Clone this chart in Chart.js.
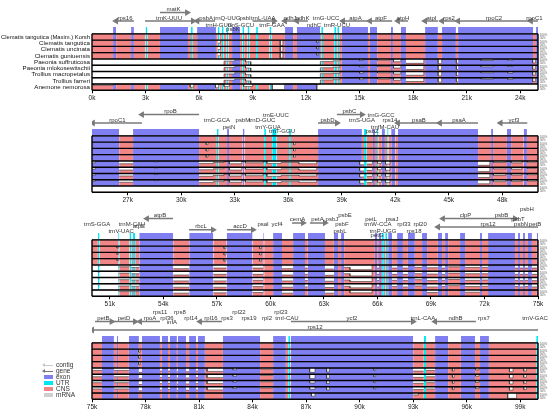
<!DOCTYPE html>
<html>
<head>
<meta charset="utf-8">
<title>mVISTA plastome alignment</title>
<script src="https://cdn.jsdelivr.net/npm/chart.js@4.4.0/dist/chart.umd.min.js"></script>
<style>
  body { margin: 0; width: 550px; height: 410px; overflow: hidden; background: #fff; position: relative;
         font-family: "Liberation Sans", Arial, sans-serif; }
  .panel { position: absolute; left: 0; width: 550px; height: 107px; }
  #legend { position: absolute; left: 44px; top: 362px; font-size: 6.5px; color: #333; line-height: 6px; }
  #legend div { height: 6px; white-space: nowrap; }
  #legend i { display: inline-block; width: 9px; height: 4px; margin-right: 3px; vertical-align: middle; }
  #legend i.arrow { height: 1.5px; position: relative; }
  #legend i.arrow:before { content: ""; position: absolute; left: -2px; top: -2px; border: 2.5px solid transparent; border-right: 3px solid; border-right-color: inherit; border-left: 0; }
</style>
</head>
<body>
<div class="panel" style="top:-3px"><canvas id="panel1"></canvas></div>
<div class="panel" style="top:99px"><canvas id="panel2"></canvas></div>
<div class="panel" style="top:203px"><canvas id="panel3"></canvas></div>
<div class="panel" style="top:306px"><canvas id="panel4"></canvas></div>
<div id="legend">
  <div><i class="arrow" style="background:#c8c8c8;border-color:#c8c8c8"></i>contig</div>
  <div><i class="arrow" style="background:#777;border-color:#777"></i>gene</div>
  <div><i style="background:#7f7ff2"></i>exon</div>
  <div><i style="background:#00e8f8"></i>UTR</div>
  <div><i style="background:#f28585"></i>CNS</div>
  <div><i style="background:#cfcfcf"></i>mRNA</div>
</div>
<script>
// Species tracks, top to bottom
const species = [
    'Clematis tangutica (Maxim.) Korsh', 'Clematis tangutica', 'Clematis uncinata', 'Clematis guniuensis',
    'Paeonia suffruticosa', 'Paeonia mlokosewitschii', 'Trollius macropetalus', 'Trollius farreri', 'Anemone nemorosa'
];

// ---- Panel 1 (0 - 25 kb) ----
const p1Range = [0, 25];
const p1Ticks = [0, 3, 6, 9, 12, 15, 18, 21, 24];
const p1Exons = [[1.18, 1.35], [2.19, 2.35], [3.81, 5.38], [5.89, 6.95], [7.85, 8.3], [10.82, 11.27], [11.49, 12.78],
    [14.01, 15.47], [15.58, 15.98], [16.76, 16.87], [17.32, 17.6], [18.67, 19.39], [19.62, 20.4], [20.52, 24.72], [24.89, 25]];
const p1Utrs = [[3.0, 3.1], [5.55, 5.65], [7.05, 7.15], [7.28, 7.38], [7.55, 7.65], [8.43, 8.53], [8.72, 8.82],
    [9.2, 9.3], [9.95, 10.05], [12.85, 12.95], [13.58, 13.68], [13.75, 13.85]];
// identity dips: [start, end, filled fraction of the 50-100% track]
const p1Clematis = [[7.05, 7.2, 0.5], [10.55, 10.7, 0.15], [12.6, 12.7, 0.6]];
const p1Paeonia = [[0, 7.4, 0], [7.4, 8.0, 0.65], [8.0, 8.6, 0.85], [8.6, 8.9, 0.55], [8.9, 12.8, 0], [12.8, 13.5, 0.6],
    [13.5, 13.9, 0.7], [15.0, 15.2, 0.75], [16.0, 16.7, 0.8], [16.9, 17.3, 0.55], [17.6, 18.6, 0.3], [19.4, 19.6, 0.25],
    [20.42, 20.52, 0.3], [21.8, 22.5, 0.75], [23.3, 23.6, 0.8], [24.7, 24.85, 0.35]];
const p1Trollius = [[0, 7.4, 0], [7.4, 8.0, 0.6], [8.0, 8.6, 0.8], [8.6, 8.9, 0.5], [8.9, 12.8, 0], [12.8, 13.5, 0.65],
    [13.5, 13.9, 0.7], [15.0, 15.2, 0.7], [16.0, 16.7, 0.8], [16.9, 17.3, 0.6], [17.6, 18.6, 0.4], [19.4, 19.6, 0.3],
    [20.42, 20.52, 0.35], [21.8, 22.5, 0.8], [23.3, 23.6, 0.75], [24.7, 24.85, 0.4]];
const p1Anemone = [[0.1, 1.2, 0.8], [5.5, 5.7, 0.5], [6.9, 7.1, 0.4], [7.4, 7.7, 0.6], [8.5, 9.0, 0.6], [10.1, 10.8, 0.1], [12.6, 25, 0]];
// genes: [name, start kb, end kb, strand, label lane]
const p1Genes = [
    ['rps16', 1.35, 2.35, -1, 3], ['trnK-UUU', 2.97, 5.66, 1, 3], ['matK', 3.81, 5.33, 1, 1], ['psbA', 5.9, 6.9, -1, 3],
    ['trnQ-UUG', 7.52, 7.62, 0, 3], ['psbI', 8.5, 8.66, 0, 3], ['trnL-UAA', 9.0, 10.2, 1, 3], ['trnH-GUG', 7.07, 7.17, 0, 5],
    ['trnS-GCU', 8.3, 8.4, 0, 5], ['psbK', 7.85, 7.95, 0, 6], ['trnF-GAA', 10.04, 10.14, 0, 5], ['ndhJ', 10.82, 11.38, -1, 3],
    ['ndhK', 11.49, 12.1, -1, 3], ['ndhC', 12.39, 12.49, 0, 5], ['trnG-UCC', 13.07, 13.17, 0, 3], ['trnR-UCU', 13.68, 13.78, 0, 5],
    ['atpA', 14.07, 15.47, -1, 3], ['atpF', 15.58, 16.82, -1, 3], ['atpH', 17.15, 17.71, -1, 3], ['atpI', 18.67, 19.39, -1, 3],
    ['rps2', 19.62, 20.4, -1, 3], ['rpoC2', 20.52, 24.55, -1, 3], ['rpoC1', 24.6, 25.0, -1, 3]
];

// ---- Panel 2 (25 - 50 kb) ----
const p2Range = [25, 50];
const p2Ticks = [27, 30, 33, 36, 39, 42, 45, 48];
const p2Exons = [[25.0, 26.52], [27.3, 31.0], [32.57, 32.68], [33.45, 33.55], [37.67, 40.13], [40.75, 40.86], [41.25, 41.42],
    [41.77, 42.0], [42.15, 46.64], [47.37, 47.48], [48.26, 48.49], [49.2, 49.38]];
const p2Utrs = [[32.0, 32.1], [34.65, 34.75], [35.1, 35.35], [36.05, 36.15], [40.25, 40.4], [40.98, 41.05], [41.55, 41.62]];
const p2Clematis = [[31.4, 31.5, 0.6], [36.3, 36.4, 0.6]];
const p2Paeonia = [[25.0, 25.2, 0.7], [26.52, 27.3, 0.55], [28.5, 28.7, 0.85], [31.0, 31.8, 0.6], [31.8, 32.4, 0.75],
    [32.7, 33.4, 0.55], [33.6, 34.6, 0.7], [34.8, 35.6, 0.6], [35.6, 36.6, 0.75], [36.6, 37.6, 0.55], [40.0, 40.25, 0.4],
    [40.4, 40.7, 0.5], [41.0, 41.2, 0.6], [41.45, 41.7, 0.5], [46.64, 47.3, 0.3], [47.5, 48.2, 0.75], [48.5, 49.1, 0.7], [49.4, 49.9, 0.8]];
const p2Trollius = [[25.0, 25.2, 0.75], [26.52, 27.3, 0.6], [28.5, 28.7, 0.85], [31.0, 31.8, 0.55], [31.8, 32.4, 0.7],
    [32.7, 33.4, 0.6], [33.6, 34.6, 0.65], [34.8, 35.6, 0.55], [35.6, 36.6, 0.7], [36.6, 37.6, 0.6], [40.0, 40.25, 0.45],
    [40.4, 40.7, 0.55], [41.0, 41.2, 0.6], [41.45, 41.7, 0.55], [46.64, 47.3, 0.35], [47.5, 48.2, 0.7], [48.5, 49.1, 0.75], [49.4, 49.9, 0.8]];
const p2Anemone = [[25, 50, 0]];
const p2Genes = [
    ['rpoC1', 25.05, 27.8, -1, 3], ['rpoB', 27.8, 31.0, -1, 1], ['trnC-GCA', 31.95, 32.05, 0, 3], ['petN', 32.63, 32.73, 0, 5],
    ['psbM', 33.41, 33.51, 0, 3], ['trnD-GUC', 34.48, 34.58, 0, 3], ['trnY-GUA', 34.82, 34.92, 0, 5], ['trnE-UUC', 35.26, 35.36, 0, 2],
    ['trnT-GGU', 35.6, 35.7, 0, 6], ['psbD', 37.67, 38.73, 1, 3], ['psbC', 38.73, 40.13, 1, 1], ['trnS-UGA', 40.08, 40.18, 0, 3],
    ['trnG-GCC', 41.15, 41.25, 0, 2], ['psbZ', 40.65, 40.75, 0, 6], ['trnfM-CAU', 41.37, 41.47, 0, 5], ['rps14', 41.65, 41.75, 0, 3],
    ['psaB', 42.15, 44.5, -1, 3], ['psaA', 44.5, 46.64, -1, 3], ['ycf3', 47.9, 49.4, -1, 3]
];

// ---- Panel 3 (50 - 75 kb) ----
const p3Range = [50, 75];
const p3Ticks = [51, 54, 57, 60, 63, 66, 69, 72, 75];
const p3Exons = [[52.65, 54.55], [55.45, 56.8], [57.55, 59.0], [59.6, 59.65], [60.15, 60.65], [61.27, 61.94], [62.1, 63.06],
    [63.56, 63.79], [63.96, 64.13], [65.86, 65.98], [66.09, 66.2], [66.6, 66.82], [67.1, 67.43], [67.71, 68.1], [68.5, 68.78],
    [69.39, 69.62], [69.79, 69.96], [70.63, 70.91], [71.75, 71.86], [72.2, 73.71], [73.88, 73.99], [74.16, 74.27], [74.44, 74.66], [74.94, 75.0]];
const p3Utrs = [[50.33, 50.42], [51.47, 51.53], [52.1, 52.2], [52.3, 52.42], [66.26, 66.36], [66.44, 66.54]];
const p3Clematis = [[51.4, 51.5, 0.7], [57.4, 57.5, 0.6], [59.4, 59.5, 0.6]];
const p3Paeonia = [[50, 50.33, 0], [50.33, 50.42, 0.8], [50.42, 51.47, 0], [51.47, 52.1, 0.7], [52.2, 52.65, 0.6], [54.55, 55.45, 0.4],
    [56.8, 57.55, 0.5], [59.0, 59.6, 0.5], [60.65, 61.27, 0.4], [61.94, 62.1, 0.5], [63.06, 63.56, 0.35], [64.13, 64.46, 0.6],
    [64.46, 65.7, 0.25], [65.98, 66.09, 0.5], [66.82, 67.1, 0.5], [67.43, 67.71, 0.5], [68.1, 68.5, 0.6], [68.78, 69.39, 0.55],
    [69.62, 69.79, 0.5], [69.96, 70.63, 0.7], [70.91, 71.75, 0.6], [71.86, 72.2, 0.6], [73.71, 73.88, 0.5], [73.99, 74.16, 0.5],
    [74.27, 74.44, 0.5], [74.66, 74.94, 0.5]];
const p3Trollius = [[50, 50.33, 0], [50.33, 50.42, 0.8], [50.42, 51.47, 0], [51.47, 52.1, 0.65], [52.2, 52.65, 0.6], [54.55, 55.45, 0.45],
    [56.8, 57.55, 0.45], [59.0, 59.6, 0.55], [60.65, 61.27, 0.45], [61.94, 62.1, 0.5], [63.06, 63.56, 0.4], [64.13, 64.46, 0.6],
    [64.46, 65.7, 0.35], [65.98, 66.09, 0.5], [66.82, 67.1, 0.55], [67.43, 67.71, 0.5], [68.1, 68.5, 0.65], [68.78, 69.39, 0.5],
    [69.62, 69.79, 0.55], [69.96, 70.63, 0.7], [70.91, 71.75, 0.55], [71.86, 72.2, 0.6], [73.71, 73.88, 0.55], [73.99, 74.16, 0.5],
    [74.27, 74.44, 0.55], [74.66, 74.94, 0.5]];
const p3Anemone = [[50, 51.47, 0], [51.47, 52.65, 0.75], [54.55, 55.45, 0.5], [56.8, 57.55, 0.55], [59.0, 59.6, 0.6],
    [60.65, 61.27, 0.5], [63.06, 63.56, 0.5], [64.46, 65.7, 0.55], [68.78, 69.39, 0.6], [70.91, 71.75, 0.65]];
const p3Genes = [
    ['trnS-GGA', 50.23, 50.33, 0, 3], ['trnM-CAU', 52.19, 52.29, 0, 3], ['trnV-UAC', 51.58, 51.68, 0, 5], ['atpE', 52.58, 52.68, 0, 4],
    ['atpB', 53.08, 54.54, -1, 1], ['rbcL', 55.44, 56.78, 1, 4], ['accD', 57.57, 59.02, 1, 4], ['psaI', 59.54, 59.64, 0, 3],
    ['ycf4', 60.32, 60.42, 0, 3], ['cemA', 61.21, 61.83, 1, 2], ['petA', 62.22, 63.06, 1, 2], ['psbJ', 63.4, 63.5, 0, 2],
    ['psbE', 64.13, 64.23, 0, 1], ['psbF', 63.96, 64.06, 0, 3], ['psbL', 63.85, 63.95, 0, 5], ['petL', 65.59, 65.69, 0, 2],
    ['trnW-CCA', 65.98, 66.08, 0, 3], ['trnP-UGG', 66.26, 66.36, 0, 5], ['petG', 65.93, 66.03, 0, 6], ['psaJ', 66.77, 66.87, 0, 2],
    ['rpl33', 67.44, 67.54, 0, 3], ['rps18', 68.0, 68.1, 0, 5], ['rpl20', 68.34, 68.44, 0, 3], ['clpP', 69.67, 72.2, -1, 1],
    ['rps12', 69.4, 75.0, -1, 3], ['psbB', 72.2, 73.71, 1, 1], ['psbT', 73.83, 73.93, 0, 2], ['psbH', 74.33, 74.43, 0, 0],
    ['psbN', 74.0, 74.1, 0, 3], ['petB', 74.78, 74.88, 0, 3]
];

// ---- Panel 4 (75 - 100 kb) ----
const p4Range = [75, 100];
const p4Ticks = [75, 78, 81, 84, 87, 90, 93, 96, 99];
const p4Exons = [[75.56, 76.23], [76.4, 76.46], [77.07, 77.63], [77.8, 78.81], [78.92, 79.26], [79.37, 79.76], [79.82, 80.27],
    [80.44, 80.83], [80.94, 81.33], [82.34, 84.42], [85.15, 85.87], [86.15, 93.0], [94.23, 94.96], [95.68, 96.47], [96.75, 97.25]];
const p4Utrs = [[86.0, 86.1], [93.6, 93.72], [99.9, 100]];
const p4Clematis = [[77.6, 77.7, 0.5]];
const p4Paeonia = [[75.0, 75.56, 0.6], [76.23, 77.07, 0.6], [77.63, 77.8, 0.3], [78.81, 78.92, 0.5], [79.26, 79.37, 0.5],
    [79.76, 79.82, 0.4], [80.27, 80.44, 0.4], [80.83, 80.94, 0.5], [81.45, 82.34, 0.45], [82.9, 83.1, 0.7], [84.42, 85.15, 0.8],
    [87.2, 87.5, 0.3], [88.15, 88.3, 0.35], [90.8, 90.9, 0.6], [93.0, 93.6, 0.5], [93.72, 94.23, 0.6], [95.2, 95.3, 0.5],
    [96.5, 96.7, 0.7], [98.4, 98.6, 0.4], [99.2, 99.35, 0.5]];
const p4Trollius = [[75.0, 75.56, 0.65], [76.23, 77.07, 0.65], [77.63, 77.8, 0.35], [78.81, 78.92, 0.5], [79.26, 79.37, 0.55],
    [79.76, 79.82, 0.45], [80.27, 80.44, 0.45], [80.83, 80.94, 0.5], [81.45, 82.34, 0.5], [82.9, 83.1, 0.75], [84.42, 85.15, 0.8],
    [87.2, 87.5, 0.6], [88.15, 88.3, 0.5], [90.8, 90.9, 0.65], [93.0, 93.6, 0.55], [93.72, 94.23, 0.65], [95.2, 95.3, 0.55],
    [96.5, 96.7, 0.7], [98.4, 98.6, 0.45], [99.2, 99.35, 0.55]];
const p4Anemone = [[87.3, 87.5, 0.5], [93.0, 93.3, 0.7], [98.3, 98.8, 0.15]];
const p4Genes = [
    ['petB', 75.17, 76.1, 1, 1], ['petD', 76.18, 77.41, 1, 1], ['rpoA', 77.69, 78.81, -1, 1], ['rps11', 78.76, 78.86, 0, 0],
    ['rpl36', 79.15, 79.25, 0, 1], ['rps8', 79.88, 79.98, 0, 0], ['infA', 79.43, 79.53, 0, 2], ['rpl14', 80.5, 80.6, 0, 1],
    ['rpl16', 81.05, 82.29, -1, 1], ['rps3', 82.52, 82.62, 0, 1], ['rpl22', 83.19, 83.29, 0, 0], ['rps19', 83.75, 83.85, 0, 1],
    ['rpl2', 84.76, 84.86, 0, 1], ['rpl23', 85.54, 85.64, 0, 0], ['trnI-CAU', 85.88, 85.98, 0, 1], ['ycf2', 86.15, 92.99, 1, 1],
    ['trnL-CAA', 93.5, 93.6, 0, 1], ['ndhB', 94.23, 96.52, -1, 1], ['rps7', 96.92, 97.02, 0, 1], ['trnV-GAC', 99.78, 99.88, 0, 1],
    ['rps12', 75.0, 100.0, -1, 3]
];

// ---- styling ----
const COLORS = { exon: '#7f7ff2', utr: '#00e8f8', cns: '#f28585' };
const LANE_Y = [-4.9, -3.9, -3.2, -2.55, -2.1, -1.4, -0.7];
const FONT = '"Liberation Sans", Arial, sans-serif';

function inside(intervals, v) {
    return intervals.some(([s, e]) => v >= s && v <= e);
}

// Build the three colour layers of one species track
function rowDatasets(row, dips, exons, utrs, range) {
    const cuts = new Set(range);
    exons.concat(utrs).concat(dips).forEach(iv => { cuts.add(iv[0]); cuts.add(iv[1]); });
    const xs = [...cuts].filter(v => v >= range[0] && v <= range[1]).sort((a, b) => a - b);
    const layers = { cns: [], exon: [], utr: [] };
    let lastKind = null;
    for (let i = 0; i < xs.length - 1; i++) {
        const a = xs[i], b = xs[i + 1], mid = (a + b) / 2;
        const kind = inside(utrs, mid) ? 'utr' : inside(exons, mid) ? 'exon' : 'cns';
        let level = 1;
        dips.forEach(([s, e, l]) => { if (mid >= s && mid <= e) level = Math.min(level, l); });
        const y = row + 1 - level;
        const pts = layers[kind];
        if (lastKind !== kind && pts.length) pts.push({ x: a, y: null });
        pts.push({ x: a, y: y }, { x: b, y: y });
        lastKind = kind;
    }
    return Object.keys(layers).map(kind => ({
        data: layers[kind],
        fill: { value: row + 1 },
        backgroundColor: COLORS[kind],
        borderColor: '#333',
        borderWidth: 0.6,
        pointRadius: 0,
        spanGaps: false
    }));
}

// Coloured annotation strip above the tracks
function stripDatasets(exons, utrs) {
    return [['exon', exons], ['utr', utrs]].map(([kind, list]) => {
        const pts = [];
        list.forEach(([s, e]) => { pts.push({ x: s, y: -1.1 }, { x: e, y: -1.1 }, { x: e, y: null }); });
        return { data: pts, fill: { value: 0 }, backgroundColor: COLORS[kind], borderWidth: 0, pointRadius: 0, spanGaps: false };
    });
}

// Gene arrows
function geneDatasets(genes) {
    return genes.filter(g => g[3] !== 0).map(g => {
        const ay = LANE_Y[g[4]] + 0.5;
        const head = g[3] > 0 ? 1 : 0;
        return {
            data: [{ x: g[1], y: ay }, { x: g[2], y: ay }],
            borderColor: '#7a7a7a',
            backgroundColor: '#7a7a7a',
            borderWidth: 1.5,
            pointStyle: 'triangle',
            rotation: g[3] > 0 ? 90 : -90,
            pointRadius: ctx => ctx.dataIndex === head ? 2.4 : 0,
            fill: false
        };
    });
}

function trackPlugin(genes, showSpecies) {
    return {
        id: 'tracks',
        afterDatasetsDraw(chart) {
            const { ctx } = chart;
            const x = chart.scales.x, y = chart.scales.y;
            const left = x.getPixelForValue(x.min), right = x.getPixelForValue(x.max);
            ctx.save();
            // row separators and frame
            ctx.strokeStyle = '#000';
            ctx.lineWidth = 1.4;
            for (let i = 0; i <= 9; i++) {
                const py = y.getPixelForValue(i);
                ctx.beginPath(); ctx.moveTo(left, py); ctx.lineTo(right, py); ctx.stroke();
            }
            ctx.beginPath();
            ctx.moveTo(left, y.getPixelForValue(0)); ctx.lineTo(left, y.getPixelForValue(9));
            ctx.moveTo(right, y.getPixelForValue(0)); ctx.lineTo(right, y.getPixelForValue(9));
            ctx.stroke();
            // percent labels at right of each track
            ctx.fillStyle = '#555';
            ctx.font = '2.8px ' + FONT;
            ctx.textAlign = 'left';
            ctx.textBaseline = 'middle';
            for (let i = 0; i < 9; i++) {
                ctx.fillText('100%', right + 2, y.getPixelForValue(i + 0.28));
                ctx.fillText('50%', right + 2, y.getPixelForValue(i + 0.75));
            }
            // gene labels
            ctx.fillStyle = '#333';
            ctx.font = '6px ' + FONT;
            ctx.textAlign = 'center';
            genes.forEach(g => {
                ctx.fillText(g[0], x.getPixelForValue((g[1] + g[2]) / 2), y.getPixelForValue(LANE_Y[g[4]]));
            });
            // species names
            if (showSpecies) {
                ctx.fillStyle = '#111';
                ctx.font = '6.2px ' + FONT;
                ctx.textAlign = 'right';
                species.forEach((name, i) => {
                    ctx.fillText(name, left - 2, y.getPixelForValue(i + 0.5), 89);
                });
            }
            ctx.restore();
        }
    };
}

function drawPanel(canvasId, range, ticks, exons, utrs, dips, genes, showSpecies) {
    const rows = [[], dips.cl, dips.cl, dips.cl, dips.pa, dips.pa, dips.tr, dips.tr, dips.an];
    let datasets = [];
    rows.forEach((d, i) => { datasets = datasets.concat(rowDatasets(i, d, exons, utrs, range)); });
    datasets = datasets.concat(stripDatasets(exons, utrs), geneDatasets(genes));

    new Chart(document.getElementById(canvasId), {
        type: 'line',
        data: { datasets: datasets },
        options: {
            responsive: true,
            maintainAspectRatio: false,
            animation: false,
            events: [],
            layout: { padding: { left: 92, right: 12, top: 0, bottom: 0 } },
            plugins: { legend: { display: false }, tooltip: { enabled: false } },
            scales: {
                x: {
                    type: 'linear',
                    min: range[0],
                    max: range[1],
                    afterBuildTicks: scale => { scale.ticks = ticks.map(v => ({ value: v })); },
                    afterFit: scale => { scale.height = 13.7; },
                    ticks: {
                        callback: v => v + 'k',
                        autoSkip: false,
                        maxRotation: 0,
                        padding: 1,
                        color: '#222',
                        font: { size: 6.5, family: FONT }
                    },
                    grid: { drawOnChartArea: false, tickLength: 3, color: '#000' },
                    border: { display: false }
                },
                y: { type: 'linear', reverse: true, min: -5, max: 9, display: false }
            }
        },
        plugins: [trackPlugin(genes, showSpecies)]
    });
}

drawPanel('panel1', p1Range, p1Ticks, p1Exons, p1Utrs,
    { cl: p1Clematis, pa: p1Paeonia, tr: p1Trollius, an: p1Anemone }, p1Genes, true);
drawPanel('panel2', p2Range, p2Ticks, p2Exons, p2Utrs,
    { cl: p2Clematis, pa: p2Paeonia, tr: p2Trollius, an: p2Anemone }, p2Genes, false);
drawPanel('panel3', p3Range, p3Ticks, p3Exons, p3Utrs,
    { cl: p3Clematis, pa: p3Paeonia, tr: p3Trollius, an: p3Anemone }, p3Genes, false);
drawPanel('panel4', p4Range, p4Ticks, p4Exons, p4Utrs,
    { cl: p4Clematis, pa: p4Paeonia, tr: p4Trollius, an: p4Anemone }, p4Genes, false);
</script>
</body>
</html>
